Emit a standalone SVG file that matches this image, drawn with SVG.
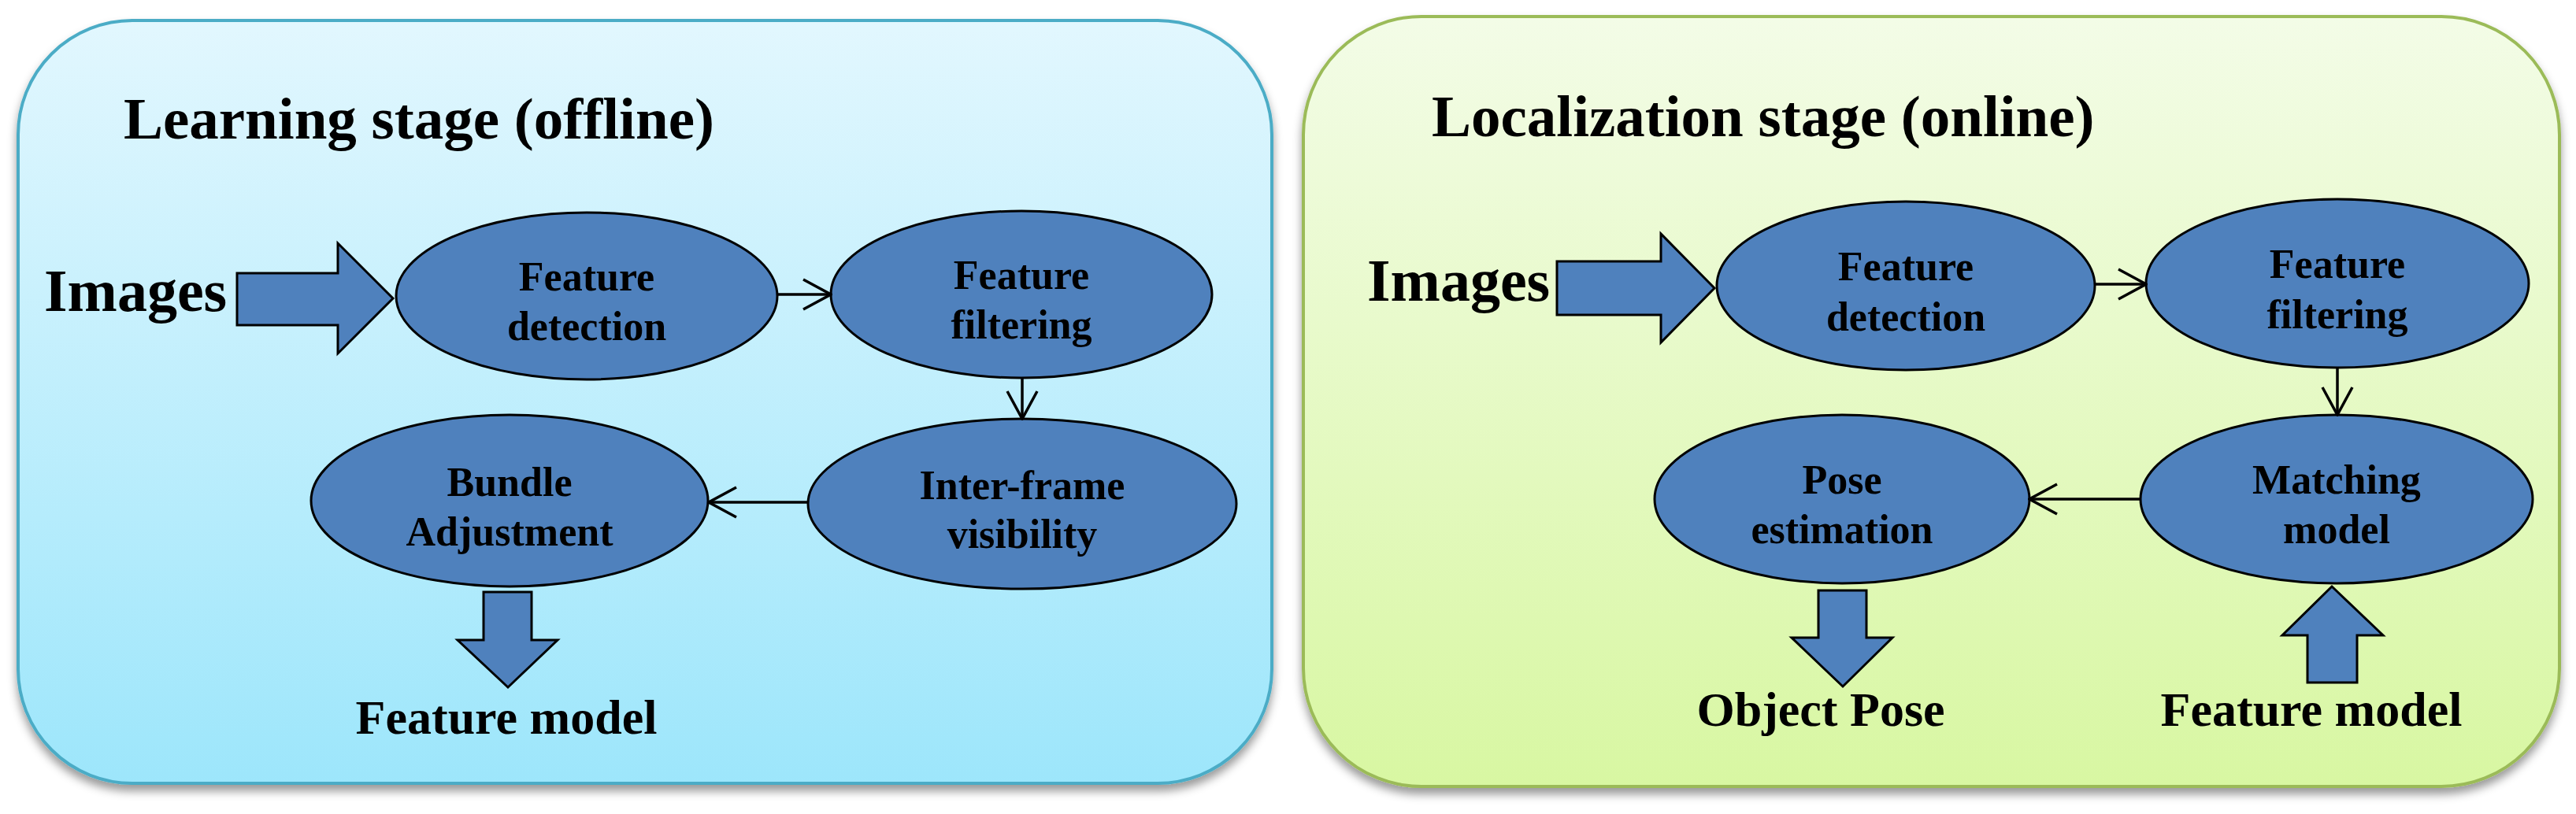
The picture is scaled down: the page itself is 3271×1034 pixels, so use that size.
<svg xmlns="http://www.w3.org/2000/svg" width="3271" height="1034" viewBox="0 0 3271 1034">
<defs>
<linearGradient id="gBlue" x1="0" y1="0" x2="0" y2="1">
<stop offset="0" stop-color="#e2f7fe"/>
<stop offset="1" stop-color="#9de6fb"/>
</linearGradient>
<linearGradient id="gGreen" x1="0" y1="0" x2="0" y2="1">
<stop offset="0" stop-color="#f3fce7"/>
<stop offset="1" stop-color="#d8f7a2"/>
</linearGradient>
<filter id="shadow" x="-5%" y="-5%" width="110%" height="115%">
<feDropShadow dx="0" dy="8" stdDeviation="6" flood-color="#000" flood-opacity="0.4"/>
</filter>
<marker id="arr" viewBox="0 0 40 44" markerWidth="40" markerHeight="44" markerUnits="userSpaceOnUse" refX="38" refY="22" orient="auto">
<path d="M3,3 L38,22 L3,41" fill="none" stroke="#000" stroke-width="3.5"/>
</marker>
</defs>
<style>
.node ellipse{fill:#4f81bd;stroke:#000;stroke-width:3}
.block{fill:#4f81bd;stroke:#000;stroke-width:3;stroke-linejoin:miter}
.conn line{stroke:#000;stroke-width:3.5;marker-end:url(#arr)}
text{font-family:"Liberation Serif","Times New Roman",serif;font-weight:bold;fill:#000}
.lbl{font-size:52px;text-anchor:middle}
.title{font-size:75px}
.big{font-size:76px}
.out{font-size:62px;text-anchor:middle}
</style>

<g id="panel-learning">
<rect x="23" y="26" width="1592" height="969" rx="145" ry="145" fill="url(#gBlue)" stroke="#4bacc6" stroke-width="4" filter="url(#shadow)"/>
<text class="title" x="157" y="176">Learning stage (offline)</text>
</g>
<g id="panel-localization">
<rect x="1655" y="21" width="1595" height="978" rx="150" ry="150" fill="url(#gGreen)" stroke="#9bbb59" stroke-width="4" filter="url(#shadow)"/>
<text class="title" x="1818" y="173">Localization stage (online)</text>
</g>

<g id="input-images-left">
<text class="big" x="56" y="395">Images</text>
<polygon class="block" points="301,347 429,347 429,309 499,379 429,449 429,413 301,413"/>
</g>
<g id="output-feature-model-left">
<polygon class="block" points="614,752 675,752 675,813 708,813 645,873 581,813 614,813"/>
<text class="out" x="643" y="932">Feature model</text>
</g>

<g id="input-images-right">
<text class="big" x="1736" y="382">Images</text>
<polygon class="block" points="1977,332 2109,332 2109,297 2177,366 2109,435 2109,400 1977,400"/>
</g>
<g id="output-object-pose">
<polygon class="block" points="2309,750 2370,750 2370,810 2403,810 2340,872 2275,810 2309,810"/>
<text class="out" x="2312" y="922">Object Pose</text>
</g>
<g id="input-feature-model-right">
<polygon class="block" points="2961,745 3026,807 2993,807 2993,867 2930,867 2930,807 2898,807"/>
<text class="out" x="2935" y="922">Feature model</text>
</g>

<g id="l-feature-detection" class="node">
<ellipse cx="745" cy="376" rx="242" ry="106"/>
<text class="lbl" x="745" y="369">Feature</text>
<text class="lbl" x="745" y="432">detection</text>
</g>
<g id="l-feature-filtering" class="node">
<ellipse cx="1297" cy="374" rx="242" ry="106"/>
<text class="lbl" x="1297" y="367">Feature</text>
<text class="lbl" x="1297" y="430">filtering</text>
</g>
<g id="l-inter-frame" class="node">
<ellipse cx="1298" cy="640" rx="272" ry="108"/>
<text class="lbl" x="1298" y="634">Inter-frame</text>
<text class="lbl" x="1298" y="696">visibility</text>
</g>
<g id="l-bundle-adjustment" class="node">
<ellipse cx="647" cy="636" rx="252" ry="109"/>
<text class="lbl" x="647" y="630">Bundle</text>
<text class="lbl" x="647" y="693">Adjustment</text>
</g>

<g id="r-feature-detection" class="node">
<ellipse cx="2420" cy="363" rx="240" ry="107"/>
<text class="lbl" x="2420" y="356">Feature</text>
<text class="lbl" x="2420" y="420">detection</text>
</g>
<g id="r-feature-filtering" class="node">
<ellipse cx="2968" cy="360" rx="243" ry="107"/>
<text class="lbl" x="2968" y="353">Feature</text>
<text class="lbl" x="2968" y="417">filtering</text>
</g>
<g id="r-matching-model" class="node">
<ellipse cx="2967" cy="634" rx="249" ry="107"/>
<text class="lbl" x="2967" y="627">Matching</text>
<text class="lbl" x="2967" y="690">model</text>
</g>
<g id="r-pose-estimation" class="node">
<ellipse cx="2339" cy="634" rx="238" ry="107"/>
<text class="lbl" x="2339" y="627">Pose</text>
<text class="lbl" x="2339" y="690">estimation</text>
</g>

<g id="connectors" class="conn">
<line x1="987" y1="374" x2="1055" y2="374"/>
<line x1="1298" y1="480" x2="1298" y2="532"/>
<line x1="1026" y1="638" x2="900" y2="638"/>
<line x1="2660" y1="361" x2="2725" y2="361"/>
<line x1="2968" y1="467" x2="2968" y2="527"/>
<line x1="2718" y1="634" x2="2577" y2="634"/>
</g>
</svg>
